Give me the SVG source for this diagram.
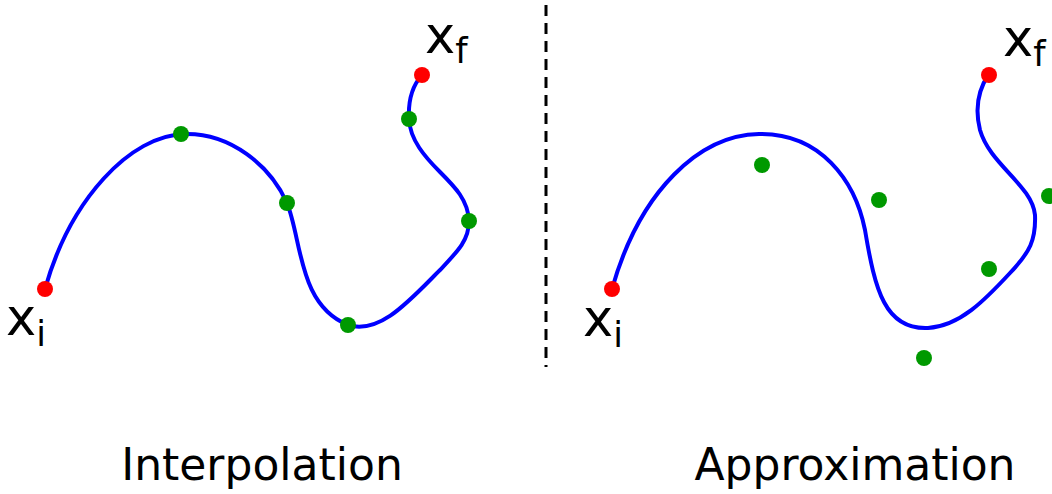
<svg xmlns="http://www.w3.org/2000/svg" width="1052" height="494" viewBox="0 0 1052 494">
<style>
.curve{fill:none;stroke:#0000ff;stroke-width:4}
.end{fill:#ff0000}
.pt{fill:#009900}
.lbl{font-family:"DejaVu Sans",sans-serif;fill:#000}
.big{font-size:51px}
.sub{font-size:35px}
.cap{font-size:44px}
</style>
<rect width="1052" height="494" fill="#fff"/>
<g id="connectors">
<line x1="546" y1="5" x2="546" y2="367" stroke="#000" stroke-width="3" stroke-dasharray="11,7"/>
<path class="curve" d="M45,289 C70,200 130,135 185,134 C230,133 270,165 287,203 C302,240 298,305 348,325 C380,335 410,300 440,270 C458,251 469,240 469,221 C468,200 455,187 440,172 C425,157 410,140 409,119 C408,100 413,85 422,75"/>
<path class="curve" d="M612,289 C640,190 700,135 759,134 C820,133 855,180 865,230 C875,290 885,330 928,328 C960,326 985,300 1010,273 C1030,252 1036,240 1035,215 C1032,185 990,165 980,130 C975,110 978,90 989,74"/>
</g>
<g id="interpolation">
<circle class="end" cx="45" cy="289" r="8"/>
<circle class="end" cx="422" cy="75" r="8"/>
<circle class="pt" cx="181" cy="134" r="8"/>
<circle class="pt" cx="287" cy="203" r="8"/>
<circle class="pt" cx="348" cy="325" r="8"/>
<circle class="pt" cx="469" cy="221" r="8"/>
<circle class="pt" cx="409" cy="119" r="8"/>
<text class="lbl big" x="6" y="335">x<tspan class="sub" dy="11">i</tspan></text>
<text class="lbl big" x="425" y="53">x<tspan class="sub" dy="10">f</tspan></text>
<text class="lbl cap" x="262" y="480" text-anchor="middle">Interpolation</text>
</g>
<g id="approximation">
<circle class="end" cx="612" cy="289" r="8"/>
<circle class="end" cx="989" cy="75" r="8"/>
<circle class="pt" cx="762" cy="165" r="8"/>
<circle class="pt" cx="879" cy="200" r="8"/>
<circle class="pt" cx="924" cy="358" r="8"/>
<circle class="pt" cx="989" cy="269" r="8"/>
<circle class="pt" cx="1049" cy="196" r="8"/>
<text class="lbl big" x="583" y="336">x<tspan class="sub" dy="11">i</tspan></text>
<text class="lbl big" x="1003" y="56">x<tspan class="sub" dy="10">f</tspan></text>
<text class="lbl cap" x="855" y="480" text-anchor="middle">Approximation</text>
</g>
</svg>
